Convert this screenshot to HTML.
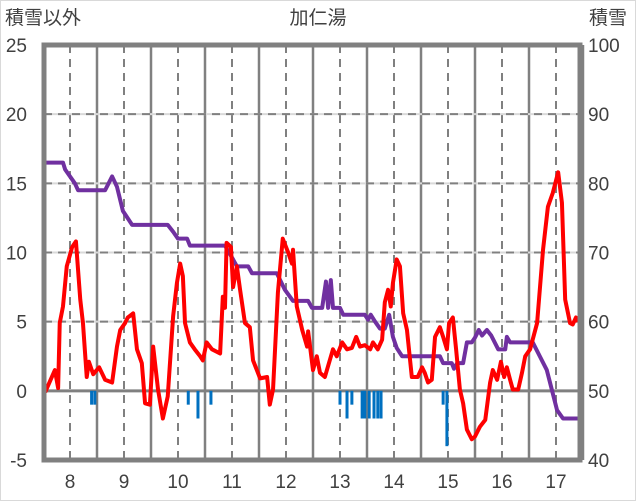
<!DOCTYPE html>
<html><head><meta charset="utf-8"><style>
body{margin:0;background:#fff;}
svg{display:block;font-family:"Liberation Sans","Noto Sans CJK JP",sans-serif;}
</style></head><body>
<svg id="c" width="636" height="501">
<rect x="0.5" y="0.5" width="635" height="500" fill="#fff" stroke="#d9d9d9"/>
<text x="5" y="24" font-size="19" fill="#404040">積雪以外</text>
<text x="318" y="24" font-size="19" fill="#404040" text-anchor="middle">加仁湯</text>
<text x="589" y="24" font-size="19" fill="#404040">積雪</text>
<g id="grid"></g><g id="bars"></g><g id="lines"></g><g id="axes"></g>
</svg>
<script>
const leftTicks=[-5,0,5,10,15,20,25];
const rightTicks=[40,50,60,70,80,90,100];
const dayTicks=[8,9,10,11,12,13,14,15,16,17];
const tempDays=[7.54,7.72,7.78,7.81,7.87,7.94,8.04,8.11,8.19,8.24,8.31,8.35,8.43,8.54,8.65,8.78,8.87,8.93,9.02,9.07,9.17,9.24,9.33,9.39,9.48,9.54,9.63,9.72,9.81,9.91,9.98,10.04,10.09,10.13,10.22,10.31,10.41,10.46,10.53,10.63,10.78,10.83,10.87,10.9,10.98,11.02,11.09,11.15,11.24,11.33,11.39,11.52,11.65,11.7,11.76,11.85,11.94,12.04,12.11,12.13,12.2,12.3,12.39,12.41,12.5,12.57,12.63,12.72,12.87,12.94,13.04,13.13,13.22,13.3,13.37,13.46,13.56,13.61,13.7,13.78,13.83,13.89,13.94,13.98,14.05,14.11,14.17,14.24,14.33,14.44,14.52,14.57,14.63,14.7,14.76,14.85,14.91,14.98,15.02,15.09,15.15,15.22,15.28,15.35,15.44,15.5,15.59,15.69,15.78,15.83,15.91,15.98,16.04,16.09,16.15,16.2,16.3,16.37,16.43,16.52,16.65,16.76,16.85,16.94,17.04,17.11,17.17,17.26,17.31,17.37,17.41];
const tempVals=[-0.1,1.5,0.2,4.9,6.1,9,10.4,10.8,6.6,4.9,1.0,2.1,1.2,1.7,0.8,0.6,3.2,4.4,4.9,5.3,5.6,3.0,2.0,-0.9,-1.0,3.2,0.1,-2.0,-0.4,5.4,7.8,9.2,8.3,4.9,3.5,3.0,2.5,2.2,3.5,3.0,2.7,6.8,6.0,10.7,10.4,7.5,9,7.3,4.9,4.6,2.2,0.9,1.0,-1.0,0.1,7.1,11.0,10,9.2,10.2,6.1,4.4,3.2,4.3,1.5,2.5,1.3,1.0,3.0,2.5,3.5,3.0,3.1,3.9,3.2,3.3,3.0,3.5,3.0,3.7,6.4,7.3,6.1,7.8,9.5,9,5.6,4.4,1.0,1.0,1.7,1.3,0.6,0.8,3.9,4.6,3.9,3.0,4.9,5.3,3.0,0.1,-0.9,-2.8,-3.5,-3.3,-2.6,-2.1,0.6,1.5,0.8,2.1,1.0,1.7,0.8,0.1,0.1,1.3,2.5,3.0,4.9,10.2,13.3,14.3,15.8,13.6,6.6,4.9,4.8,5.3,5.0];
const snowDays=[7.54,7.87,7.91,8.09,8.15,8.65,8.78,8.87,8.98,9.15,9.81,9.91,10.0,10.17,10.22,10.87,11.02,11.09,11.3,11.37,11.83,11.98,12.13,12.41,12.48,12.67,12.74,12.78,12.83,12.87,13.0,13.06,13.46,13.52,13.57,13.65,13.74,13.83,13.91,13.98,14.05,14.15,14.85,14.91,15.07,15.11,15.17,15.28,15.35,15.44,15.5,15.57,15.63,15.72,15.8,15.93,16.06,16.09,16.15,16.57,16.7,16.83,17.02,17.13,17.41];
const snowVals=[83,83,82,80,79,79,81,79.5,76,74,74,73,72,72,71,71,69,68,68,67,67,64.6,63,63,62,62,65.8,62,66,62,62,61,61,60.3,61,60,59,59,61,57.8,56.2,55,55,54,54,53.2,54,54,57,57,57.7,58.8,58,58.8,58,56,56,57.8,57,57,55,53,47.2,46,46];
const rainDays=[8.4,8.46,10.19,10.37,10.61,13.0,13.13,13.22,13.41,13.46,13.54,13.63,13.7,13.76,14.91,14.98];
const rainVals=[1,1,1,2,1,1,2,1,2,2,2,2,2,2,1,4];

const L=44,R=580,T=45,B=460;
const xS=d=>70+(d-8)*54;
const yS=v=>T+(25-v)*(B-T)/30;
const yR=s=>yS((s-50)/2);
const NS='http://www.w3.org/2000/svg';
function mk(p,tag,a){const e=document.createElementNS(NS,tag);for(const k in a)e.setAttribute(k,a[k]);p.appendChild(e);return e;}
const grid=document.getElementById('grid'),bars=document.getElementById('bars'),lines=document.getElementById('lines'),axes=document.getElementById('axes');
// vertical gridlines
dayTicks.forEach(d=>{
  const g=mk(grid,'line',{x1:xS(d),x2:xS(d),y1:T,y2:B,stroke:'#808080','stroke-width':2,'stroke-dasharray':'8,6'});
  
  
  const s=mk(grid,'line',{x1:xS(d+0.5),x2:xS(d+0.5),y1:T,y2:B,stroke:'#808080','stroke-width':2.5});
  
  
  const t=mk(axes,'text',{x:xS(d),y:488,'font-size':19,fill:'#404040','text-anchor':'middle'});
  t.textContent=d;
  
  
});
const s7=mk(grid,'line',{x1:xS(7.5),x2:xS(7.5),y1:T,y2:B,stroke:'#808080','stroke-width':2.5});


leftTicks.forEach((v,i)=>{
  const y=yS(v);
  if(v!==0&&v!==25&&v!==-5){
    const g1=mk(grid,'line',{x1:L,x2:R,y1:y,y2:y,stroke:'#d9d9d9','stroke-width':2});
    
    
    const g=mk(grid,'line',{x1:L,x2:R,y1:y,y2:y,stroke:'#808080','stroke-width':2,'stroke-dasharray':'8,6'});
    
    
  }
  const t=mk(axes,'text',{x:27,y:y+7,'font-size':19,fill:'#404040','text-anchor':'end'});
  t.textContent=v;
  
  
  const r=mk(axes,'text',{x:588,y:yR(rightTicks[i])+7,'font-size':19,fill:'#404040'});
  r.textContent=rightTicks[i];
  
  
});
const z=mk(grid,'line',{x1:L,x2:R,y1:yS(0),y2:yS(0),stroke:'#808080','stroke-width':3});


rainDays.forEach((d,i)=>{
  const b=mk(bars,'rect',{x:xS(d)-1.5,y:yS(0),width:3,height:yS(-rainVals[i])-yS(0),fill:'#0070c0'});
  
  
});
const sp=mk(lines,'polyline',{points:snowDays.map((d,i)=>xS(d)+','+yR(snowVals[i])).join(' '),fill:'none',stroke:'#7030a0','stroke-width':4,'stroke-linejoin':'round'});


const tp=mk(lines,'polyline',{points:tempDays.map((d,i)=>xS(d)+','+yS(tempVals[i])).join(' '),fill:'none',stroke:'#ff0000','stroke-width':4,'stroke-linejoin':'round'});


const fr=mk(axes,'rect',{x:L,y:T,width:R-L,height:B-T,fill:'none',stroke:'#808080','stroke-width':5});


</script>
</body></html>
